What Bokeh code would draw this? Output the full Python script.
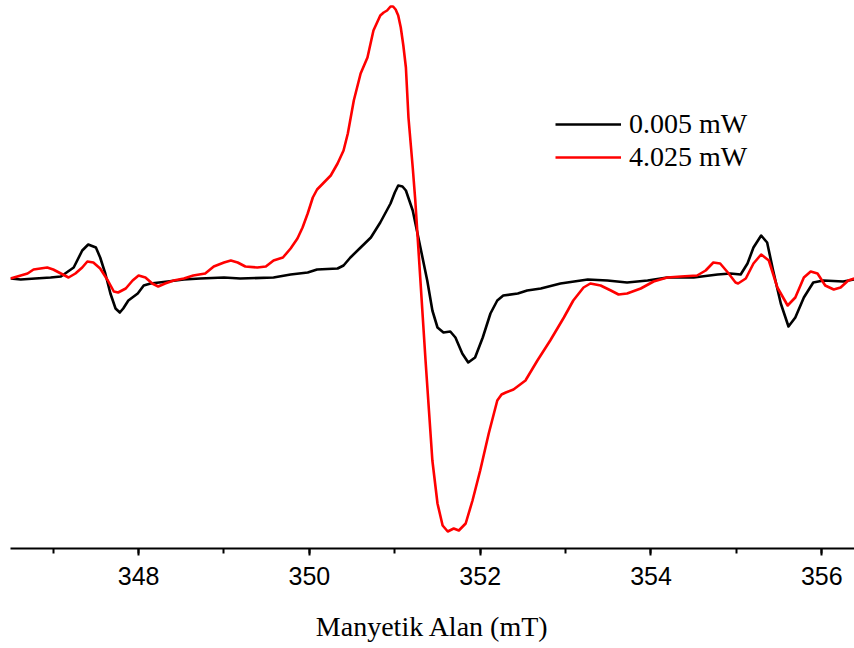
from bokeh.plotting import figure
from bokeh.models import Range1d, SingleIntervalTicker, Legend, LegendItem
from bokeh.embed import file_html
from bokeh.resources import INLINE

# Magnetic field (mT) and first-derivative EPR signal (a.u.) at 0.005 mW
field_low = [346.50, 346.62, 346.79, 346.97, 347.09, 347.14, 347.24, 347.34, 347.41, 347.50,
             347.55, 347.61, 347.67, 347.73, 347.78, 347.82, 347.88, 347.99, 348.06, 348.14,
             348.34, 348.53, 348.72, 349.00, 349.19, 349.58, 349.78, 349.98, 350.09, 350.33,
             350.40, 350.48, 350.60, 350.72, 350.83, 350.95, 351.00, 351.04, 351.09, 351.13,
             351.21, 351.30, 351.38, 351.44, 351.50, 351.57, 351.65, 351.71, 351.79, 351.86,
             351.94, 352.03, 352.12, 352.20, 352.27, 352.44, 352.55, 352.71, 352.94, 353.26,
             353.49, 353.72, 353.96, 354.19, 354.50, 354.78, 354.93, 355.05, 355.13, 355.20,
             355.29, 355.36, 355.43, 355.52, 355.61, 355.69, 355.79, 355.90, 356.02, 356.25,
             356.38]
signal_low = [-1, -2, -1, 0, 1, 4, 10, 27, 33, 30,
              20, 4, -16, -31, -35, -31, -23, -16, -8, -6,
              -4, -2, -1, 0, -1, 0, 3, 5, 8, 9,
              12, 20, 30, 40, 55, 74, 85, 92, 91, 87,
              67, 30, -3, -33, -50, -55, -54, -60, -76, -85,
              -80, -60, -36, -23, -18, -16, -13, -11, -6, -2,
              -3, -5, -3, 0, 0, 3, 4, 3, 14, 30,
              42, 35, 7, -26, -49, -40, -20, -5, -3, -4,
              -2]

# Same sample at 4.025 mW
field_high = [346.50, 346.62, 346.70, 346.77, 346.85, 346.93, 347.00, 347.09, 347.18, 347.26,
              347.34, 347.40, 347.47, 347.55, 347.64, 347.71, 347.76, 347.85, 347.93, 348.00,
              348.08, 348.16, 348.23, 348.31, 348.41, 348.53, 348.64, 348.78, 348.88, 349.00,
              349.08, 349.16, 349.25, 349.39, 349.49, 349.58, 349.69, 349.78, 349.86, 349.92,
              349.98, 350.04, 350.09, 350.17, 350.25, 350.33, 350.40, 350.45, 350.52, 350.60,
              350.68, 350.75, 350.83, 350.87, 350.91, 350.95, 350.98, 351.01, 351.04, 351.07,
              351.10, 351.13, 351.16, 351.21, 351.24, 351.36, 351.40, 351.44, 351.50, 351.56,
              351.62, 351.69, 351.75, 351.83, 351.91, 352.00, 352.10, 352.20, 352.25, 352.30,
              352.39, 352.53, 352.67, 352.82, 352.98, 353.09, 353.21, 353.29, 353.41, 353.53,
              353.62, 353.72, 353.88, 354.03, 354.19, 354.35, 354.54, 354.64, 354.73, 354.81,
              354.90, 354.99, 355.02, 355.11, 355.20, 355.29, 355.38, 355.48, 355.60, 355.69,
              355.79, 355.87, 355.95, 356.04, 356.14, 356.22, 356.31, 356.38]
signal_high = [-1, 2, 4, 8, 9, 10, 8, 4, 0, 4,
               10, 16, 15, 9, -3, -14, -15, -11, -3, 2,
               0, -6, -9, -6, -3, -1, 2, 4, 11, 15,
               17, 15, 11, 10, 11, 17, 20, 29, 39, 50,
               64, 80, 88, 95, 102, 114, 127, 144, 177, 204,
               220, 247, 262, 265, 267, 271, 271, 268, 262, 250,
               232, 210, 160, 110, 77, -83, -133, -183, -226, -248,
               -254, -251, -253, -246, -223, -193, -156, -123, -117, -115,
               -112, -103, -83, -63, -40, -23, -10, -6, -8, -13,
               -17, -16, -11, -4, 0, 1, 2, 7, 15, 14,
               5, -5, -6, -1, 14, 23, 17, -10, -28, -20,
               0, 6, 4, -8, -12, -10, -3, -1]

series_labels = ["0.005 mW", "4.025 mW"]

p = figure(width=854, height=648, output_backend="svg", toolbar_location=None,
           x_range=Range1d(346.5, 356.383), y_range=Range1d(-271, 277),
           y_axis_location=None,
           min_border_left=10, min_border_right=0, min_border_top=0, min_border_bottom=100)
p.outline_line_color = None
p.grid.visible = False
p.background_fill_color = "white"
p.border_fill_color = "white"

r_low = p.line(field_low, signal_low, line_color="black", line_width=2.6, line_join="round")
r_high = p.line(field_high, signal_high, line_color="#ff0000", line_width=2.6, line_join="round")

ax = p.xaxis[0]
ax.ticker = SingleIntervalTicker(interval=2, num_minor_ticks=2)
ax.axis_label = "Manyetik Alan (mT)"
ax.axis_label_text_font = "Liberation Serif"
ax.axis_label_text_font_style = "normal"
ax.axis_label_text_font_size = "28px"
ax.axis_label_text_color = "black"
ax.axis_label_standoff = 23
ax.major_label_text_font = "'Liberation Sans Narrow', 'Arial Narrow', 'Liberation Sans', sans-serif"
ax.major_label_text_font_size = "25px"
ax.major_label_text_color = "black"
ax.major_label_standoff = 11
ax.axis_line_width = 2
ax.axis_line_color = "black"
ax.major_tick_line_width = 2
ax.minor_tick_line_width = 2
ax.major_tick_in = 0
ax.major_tick_out = 7
ax.minor_tick_in = 0
ax.minor_tick_out = 5

legend = Legend(items=[LegendItem(label=series_labels[0], renderers=[r_low]),
                       LegendItem(label=series_labels[1], renderers=[r_high])],
                location=(545, 375), orientation="vertical",
                glyph_width=66, glyph_height=24, label_height=24, spacing=1,
                label_standoff=8, padding=0, margin=0,
                label_text_font="Liberation Serif", label_text_font_size="28px",
                label_text_color="black",
                border_line_alpha=0, background_fill_alpha=0)
p.add_layout(legend)

open("out.html", "w").write(file_html(p, INLINE))
